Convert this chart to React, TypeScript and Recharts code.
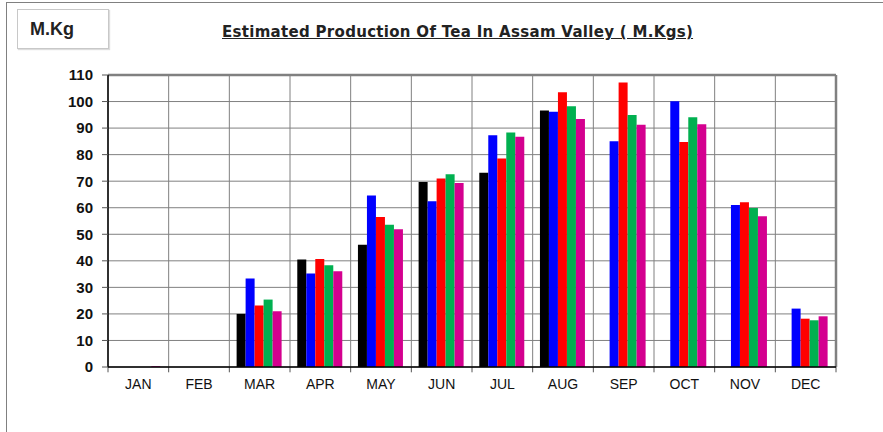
import React from "react";
import { BarChart, Bar, XAxis, YAxis, CartesianGrid, ReferenceLine } from "recharts";

const months = ["JAN", "FEB", "MAR", "APR", "MAY", "JUN", "JUL", "AUG", "SEP", "OCT", "NOV", "DEC"];

// five seasons, one colour each (legend not shown in the original)
const seriesA = [0, 0, 20, 40.5, 46.1, 69.7, 73.2, 96.6, null, null, null, null];
const seriesB = [0, 0, 33.3, 35.2, 64.6, 62.4, 87.3, 96.2, 85.0, 100.1, 61.0, 22.0];
const seriesC = [0, 0, 23.2, 40.7, 56.5, 71.0, 78.5, 103.5, 107.2, 84.8, 62.1, 18.2];
const seriesD = [0, 0, 25.4, 38.3, 53.6, 72.6, 88.3, 98.2, 94.9, 94.1, 59.9, 17.6];
const seriesE = [0.3, 0, 21.0, 36.1, 51.9, 69.3, 86.7, 93.4, 91.3, 91.4, 56.8, 19.1];

const yTicks = [0, 10, 20, 30, 40, 50, 60, 70, 80, 90, 100, 110];
const edgeTicks = [0, 1, 2, 3, 4, 5, 6, 7, 8, 9, 10, 11, 12];

const data = months.map((m, i) => ({
  month: m,
  edge: i + 0.5,
  a: seriesA[i],
  b: seriesB[i],
  c: seriesC[i],
  d: seriesD[i],
  e: seriesE[i],
}));

const colors = { a: "#000000", b: "#0000FF", c: "#FF0000", d: "#00B050", e: "#D4008F" };

const App: React.FC = () => {
  return (
    <div style={{ position: "absolute", left: 0, top: 0, width: 883, height: 432, background: "#fff", overflow: "hidden" }}>
      <div style={{ position: "absolute", left: 6, top: 2, width: 900, height: 460, borderLeft: "1px solid #808080", borderTop: "1px solid #808080" }} />
      <div
        style={{
          position: "absolute", left: 17, top: 9, width: 90, height: 38,
          border: "1px solid #c8c8c8", boxShadow: "1px 1px 1px #ddd",
        }}
      />
      <div style={{ position: "absolute", left: 30, top: 19, fontFamily: "'Liberation Sans', Arial, sans-serif", fontWeight: 700, fontSize: 18, color: "#222" }}>
        M.Kg
      </div>
      <div
        style={{
          position: "absolute", left: 222, top: 23, fontFamily: "'DejaVu Sans', sans-serif",
          fontWeight: 700, fontSize: 15, letterSpacing: 0.3, color: "#222", textDecoration: "underline", whiteSpace: "nowrap",
        }}
      >
        Estimated Production Of Tea In Assam Valley ( M.Kgs)
      </div>
      <div style={{ position: "absolute", left: 0, top: 0 }}>
        <BarChart
          width={883}
          height={432}
          data={data}
          margin={{ top: 75, right: 47, bottom: 35, left: 0 }}
          barGap={0}
          barCategoryGap="12%"
        >
          <CartesianGrid stroke="#808080" vertical={false} />
          <XAxis xAxisId="edges" dataKey="edge" type="number" domain={[0, 12]} ticks={edgeTicks} hide />
          <XAxis
            dataKey="month"
            height={30}
            tickLine={false}
            tickSize={6}
            tickMargin={6}
            axisLine={{ stroke: "#000", strokeWidth: 1.5 }}
            tick={{ fill: "#111", fontSize: 14, fontFamily: "'Liberation Sans', Arial, sans-serif" }}
            interval={0}
          />
          <YAxis
            width={108}
            domain={[0, 110]}
            ticks={yTicks}
            interval={0}
            tickSize={6}
            tickMargin={9}
            tickLine={{ stroke: "#555" }}
            axisLine={{ stroke: "#000", strokeWidth: 1.5 }}
            tick={{ fill: "#111", fontSize: 15, fontWeight: 700, fontFamily: "'Liberation Sans', Arial, sans-serif" }}
          />
          {edgeTicks.map((t) => (
            <ReferenceLine key={`g${t}`} x={t} xAxisId="edges" stroke="#808080" strokeWidth={1} />
          ))}
          {edgeTicks.map((t) => (
            <ReferenceLine
              key={`t${t}`}
              xAxisId="edges"
              segment={[{ x: t, y: 0 }, { x: t, y: -2 }]}
              ifOverflow="visible"
              stroke="#555"
              strokeWidth={1}
            />
          ))}
          <ReferenceLine y={110} stroke="#808080" strokeWidth={2.5} />
          <ReferenceLine x={12} xAxisId="edges" stroke="#808080" strokeWidth={2.5} />
          <Bar dataKey="a" fill={colors.a} isAnimationActive={false} />
          <Bar dataKey="b" fill={colors.b} isAnimationActive={false} />
          <Bar dataKey="c" fill={colors.c} isAnimationActive={false} />
          <Bar dataKey="d" fill={colors.d} isAnimationActive={false} />
          <Bar dataKey="e" fill={colors.e} isAnimationActive={false} />
        </BarChart>
      </div>
    </div>
  );
};

export default App;
